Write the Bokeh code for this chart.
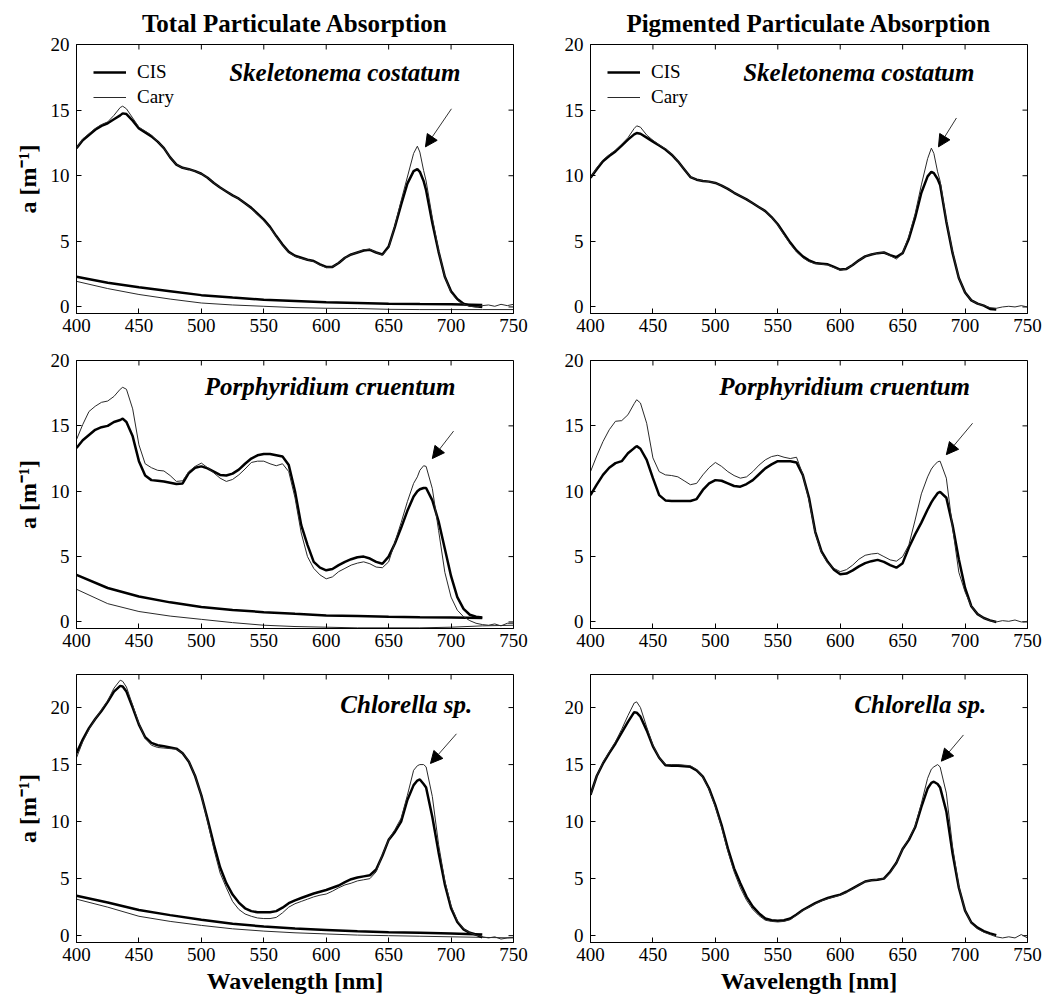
import math
from bokeh.plotting import figure
from bokeh.models import (Range1d, FixedTicker, Label, Arrow,
                          NormalHead, Legend, LegendItem)
from bokeh.layouts import gridplot
from bokeh.embed import file_html
from bokeh.resources import INLINE

FONT = "Liberation Serif"

# ---------------- data ----------------
WL = [400, 405, 410, 415, 420, 425, 430, 435, 437, 440,
      445, 450, 455, 460, 465, 470, 475, 480, 485, 490,
      495, 500, 505, 510, 515, 520, 525, 530, 535, 540,
      545, 550, 555, 560, 565, 570, 575, 580, 585, 590,
      595, 600, 605, 610, 615, 620, 625, 630, 635, 640,
      645, 650, 655, 660, 665, 670, 673, 675, 678, 680,
      685, 690, 695, 700, 705, 710, 715, 720, 725,
      730, 735, 740, 745, 750]
DET_WL = [400, 425, 450, 475, 500, 525, 550, 575, 600, 625, 650, 675, 700, 725, 750]

X_TICKS = [400, 450, 500, 550, 600, 650, 700, 750]
Y_TICKS = [0, 5, 10, 15, 20]

# Skeletonema costatum - total
sk_tot_cis = [12.1, 12.7, 13.1, 13.5, 13.8, 14.0, 14.3, 14.6, 14.75, 14.7,
              14.2, 13.6, 13.3, 13.0, 12.6, 12.1, 11.4, 10.85, 10.6, 10.5,
              10.35, 10.15, 9.85, 9.45, 9.1, 8.8, 8.5, 8.25, 7.9, 7.55,
              7.1, 6.65, 6.1, 5.4, 4.75, 4.2, 3.9, 3.75, 3.6, 3.5,
              3.25, 3.05, 3.05, 3.35, 3.75, 4.0, 4.15, 4.3, 4.35, 4.15,
              4.0, 4.6, 6.1, 7.8, 9.4, 10.35, 10.5, 10.3, 9.6, 8.9,
              6.4, 4.2, 2.3, 1.2, 0.6, 0.25, 0.1, 0.05, 0.0]
sk_tot_cary = [12.1, 12.8, 13.2, 13.6, 13.9, 14.1, 14.6, 15.2, 15.3, 15.1,
               14.4, 13.7, 13.4, 13.1, 12.6, 12.1, 11.4, 10.85, 10.6, 10.5,
               10.35, 10.15, 9.85, 9.45, 9.1, 8.8, 8.5, 8.25, 7.9, 7.5,
               7.05, 6.6, 6.05, 5.35, 4.7, 4.15, 3.85, 3.7, 3.6, 3.45,
               3.2, 3.0, 3.05, 3.35, 3.75, 4.0, 4.15, 4.35, 4.4, 4.15,
               3.95, 4.5, 6.2, 8.1, 9.9, 11.7, 12.25, 11.8, 10.4, 9.6,
               6.8, 4.3, 2.3, 1.1, 0.5, 0.2, 0.05, 0.0, 0.1,
               0.15, 0.05, 0.2, 0.1, 0.2]
sk_det_cis = [2.3, 1.85, 1.5, 1.2, 0.9, 0.72, 0.55, 0.45, 0.35, 0.3, 0.25, 0.22, 0.2, 0.15]
sk_det_cary = [1.95, 1.4, 0.95, 0.6, 0.3, 0.15, 0.05, -0.05, -0.1, -0.12, -0.18, -0.2, -0.2, -0.2, -0.2]

# Skeletonema costatum - pigmented
sk_pig_cis = [9.85, 10.5, 11.1, 11.5, 11.85, 12.3, 12.75, 13.15, 13.25, 13.2,
              12.9, 12.6, 12.3, 12.0, 11.6, 11.1, 10.5, 9.9, 9.7, 9.6,
              9.55, 9.45, 9.25, 9.0, 8.7, 8.45, 8.2, 7.9, 7.6, 7.3,
              6.85, 6.3, 5.6, 4.9, 4.3, 3.85, 3.55, 3.35, 3.3, 3.25,
              3.05, 2.85, 2.9, 3.2, 3.55, 3.85, 4.0, 4.1, 4.15, 3.95,
              3.8, 4.1, 5.2, 6.8, 8.7, 9.95, 10.3, 10.2, 9.75, 9.3,
              6.5, 4.1, 2.2, 1.1, 0.5, 0.25, 0.1, -0.15, -0.2]
sk_pig_cary = [9.85, 10.6, 11.2, 11.6, 11.95, 12.4, 12.9, 13.6, 13.8, 13.7,
               13.1, 12.7, 12.35, 12.05, 11.65, 11.1, 10.5, 9.9, 9.7, 9.6,
               9.55, 9.45, 9.25, 9.0, 8.7, 8.45, 8.2, 7.9, 7.6, 7.3,
               6.85, 6.25, 5.5, 4.8, 4.2, 3.75, 3.45, 3.3, 3.25, 3.2,
               3.0, 2.8, 2.9, 3.2, 3.55, 3.85, 4.0, 4.1, 4.15, 3.9,
               3.65, 4.1, 5.4, 7.1, 9.3, 11.3, 12.1, 11.7, 10.3, 9.6,
               6.6, 4.2, 2.2, 1.1, 0.5, 0.25, 0.1, -0.05, -0.1,
               0.0, 0.05, 0.0, 0.1, 0.0]

# Porphyridium cruentum - total
po_tot_cis = [13.3, 13.9, 14.3, 14.7, 14.9, 15.0, 15.3, 15.45, 15.55, 15.3,
              14.2, 12.3, 11.2, 10.85, 10.8, 10.75, 10.65, 10.55, 10.6, 11.4,
              11.8, 11.9, 11.75, 11.5, 11.25, 11.2, 11.35, 11.65, 12.1, 12.5,
              12.75, 12.85, 12.85, 12.75, 12.65, 12.0, 10.0, 7.4, 5.9, 4.6,
              4.15, 3.95, 4.05, 4.35, 4.6, 4.8, 4.95, 5.0, 4.85, 4.6,
              4.45, 5.0, 6.0, 7.2, 8.5, 9.6, 10.0, 10.15, 10.25, 10.25,
              9.3, 7.7, 5.6, 3.5, 1.9, 1.0, 0.55, 0.4, 0.35]
po_tot_cary = [13.95, 15.1, 16.1, 16.5, 16.8, 16.9, 17.25, 17.8, 17.95, 17.8,
               16.3, 13.55, 12.1, 11.8, 11.6, 11.55, 11.2, 10.75, 10.8, 11.5,
               11.9, 12.15, 11.8, 11.4, 11.0, 10.75, 10.9, 11.25, 11.7, 12.2,
               12.3, 12.3, 12.1, 11.95, 12.1, 11.5, 9.5, 6.8, 5.0, 4.1,
               3.6, 3.3, 3.45, 3.85, 4.1, 4.35, 4.5, 4.6, 4.45, 4.2,
               4.15, 4.6, 6.1, 7.6, 9.2, 10.6, 11.1, 11.6, 11.95, 11.9,
               10.2, 7.0, 3.8, 1.9, 0.9, 0.4, 0.1, -0.1, -0.2,
               -0.25, -0.15, -0.3, -0.1, -0.1]
po_det_cis = [3.6, 2.6, 1.95, 1.5, 1.15, 0.92, 0.75, 0.62, 0.5, 0.45, 0.4, 0.37, 0.35, 0.3]
po_det_cary = [2.5, 1.4, 0.8, 0.45, 0.2, -0.05, -0.25, -0.35, -0.4, -0.45, -0.45, -0.45, -0.4, -0.3, -0.25]

# Porphyridium cruentum - pigmented
po_pig_cis = [9.7, 10.5, 11.25, 11.8, 12.15, 12.3, 12.9, 13.3, 13.45, 13.25,
              12.4, 11.0, 9.7, 9.3, 9.25, 9.25, 9.25, 9.25, 9.4, 10.1,
              10.6, 10.85, 10.8, 10.6, 10.4, 10.35, 10.55, 10.85, 11.3, 11.75,
              12.05, 12.3, 12.3, 12.3, 12.2, 11.25, 9.5, 6.9, 5.4, 4.6,
              4.0, 3.65, 3.7, 3.95, 4.25, 4.5, 4.65, 4.75, 4.6, 4.35,
              4.15, 4.5, 5.7, 6.7, 7.6, 8.6, 9.15, 9.45, 9.85, 9.95,
              9.5, 7.4, 4.8, 2.6, 1.2, 0.6, 0.3, 0.12, 0.0]
po_pig_cary = [11.5, 12.7, 13.8, 14.7, 15.35, 15.4, 15.85, 16.7, 17.0, 16.75,
               15.2, 12.55, 11.5, 11.25, 11.2, 11.1, 10.8, 10.5, 10.6, 11.25,
               11.8, 12.2, 11.9, 11.5, 11.2, 11.0, 11.1, 11.5, 12.0, 12.4,
               12.65, 12.75, 12.6, 12.5, 12.6, 11.3, 9.3, 6.8, 5.3, 4.5,
               4.1, 3.85, 4.0, 4.35, 4.8, 5.1, 5.2, 5.25, 5.0, 4.75,
               4.65, 5.0, 5.9, 7.8, 9.8, 11.1, 11.7, 11.95, 12.25, 12.3,
               11.0, 7.2, 3.8, 2.3, 1.2, 0.6, 0.3, 0.1, 0.0,
               0.1, 0.05, 0.15, 0.0, 0.05]

# Chlorella sp. - total
ch_tot_cis = [16.0, 17.2, 18.2, 19.0, 19.7, 20.5, 21.4, 21.9, 21.85, 21.4,
              20.0, 18.5, 17.4, 16.9, 16.7, 16.6, 16.5, 16.4, 16.0, 15.25,
              14.0, 12.3, 10.2, 8.0, 6.0, 4.6, 3.6, 2.9, 2.4, 2.15,
              2.05, 2.05, 2.05, 2.15, 2.45, 2.85, 3.1, 3.3, 3.5, 3.7,
              3.85, 4.0, 4.2, 4.4, 4.7, 4.95, 5.1, 5.2, 5.3, 5.8,
              7.0, 8.4, 9.1, 10.0, 11.9, 13.2, 13.6, 13.7, 13.3, 13.0,
              10.4, 7.3, 4.5, 2.4, 1.2, 0.55, 0.25, 0.1, -0.15]
ch_tot_cary = [15.6, 17.0, 18.1, 19.0, 19.8, 20.6, 21.7, 22.4, 22.3, 21.8,
               20.2, 18.6, 17.3, 16.7, 16.5, 16.45, 16.4, 16.35, 16.0, 15.3,
               14.0, 12.3, 10.0, 7.6, 5.5, 4.2, 3.0, 2.3, 1.9, 1.7,
               1.55, 1.5, 1.5, 1.6, 2.0, 2.5, 2.8, 3.0, 3.2, 3.4,
               3.55, 3.65, 3.9, 4.2, 4.45, 4.6, 4.8, 4.9, 5.0, 5.6,
               7.1, 8.4, 9.3, 10.3, 12.3, 14.5, 14.9, 15.0, 15.0, 14.8,
               12.2, 8.0, 4.8, 2.6, 1.3, 0.6, 0.25, 0.05, -0.1,
               -0.2, -0.1, -0.3, -0.2, -0.15]
ch_det_cis = [3.5, 2.9, 2.25, 1.8, 1.4, 1.05, 0.8, 0.62, 0.5, 0.38, 0.3, 0.25, 0.2, 0.1]
ch_det_cary = [3.2, 2.5, 1.7, 1.25, 0.9, 0.6, 0.4, 0.25, 0.15, 0.05, 0.0, -0.05, -0.1, -0.15, -0.2]

# Chlorella sp. - pigmented
ch_pig_cis = [12.35, 14.0, 15.1, 16.0, 16.85, 17.8, 18.75, 19.6, 19.55, 19.2,
              18.0, 16.6, 15.6, 14.95, 14.9, 14.9, 14.85, 14.8, 14.5, 13.95,
              12.9, 11.45, 9.7, 7.65, 5.9, 4.6, 3.4, 2.55, 1.95, 1.5,
              1.35, 1.3, 1.35, 1.5, 1.85, 2.25, 2.55, 2.85, 3.1, 3.3,
              3.45, 3.6, 3.85, 4.15, 4.45, 4.75, 4.85, 4.9, 5.0, 5.6,
              6.4, 7.6, 8.4, 9.5, 11.3, 12.9, 13.4, 13.5, 13.3, 13.0,
              10.9, 7.2, 4.2, 2.2, 1.15, 0.7, 0.4, 0.2, 0.05]
ch_pig_cary = [12.3, 14.0, 15.2, 16.1, 17.0, 18.1, 19.3, 20.4, 20.5, 20.0,
               18.3, 16.7, 15.6, 15.0, 15.0, 15.0, 14.95, 14.9, 14.55, 13.9,
               12.8, 11.3, 9.5, 7.4, 5.6, 4.2, 3.1, 2.3, 1.75, 1.35,
               1.25, 1.2, 1.25, 1.4, 1.8, 2.2, 2.5, 2.8, 3.05, 3.25,
               3.4, 3.55, 3.8, 4.1, 4.45, 4.75, 4.85, 4.95, 5.0, 5.5,
               6.4, 7.6, 8.5, 9.6, 11.6, 13.8, 14.6, 14.8, 15.0, 14.8,
               12.5, 7.8, 4.3, 2.2, 1.1, 0.6, 0.3, 0.1, -0.1,
               -0.2, -0.1, -0.2, 0.1, -0.2]

# ---------------- drawing ----------------
def style_axis(ax):
    ax.major_tick_in = 5
    ax.major_tick_out = 0
    ax.minor_tick_line_color = None
    ax.axis_line_color = "black"
    ax.major_tick_line_color = "black"
    ax.major_label_text_font = FONT
    ax.major_label_text_color = "black"
    ax.major_label_text_font_size = "19px"
    ax.major_label_standoff = 5


def panel(col, row, cis, cary, species, sp_xy, arrow, det=None, title=None,
          legend=False):
    ymax = 22.9 if row == 2 else 20.0
    ymin = -0.6 if row == 2 else -0.5
    tops = [43, 17, 16]
    bottoms = [30, 30, 56]
    if col == 0:
        bl, br = 76, 20
    else:
        bl, br = 57, 16
    fh = 269 if row == 0 else 268
    p = figure(x_range=Range1d(400, 750), y_range=Range1d(ymin, ymax),
               frame_width=437, frame_height=fh,
               min_border_left=bl, min_border_right=br,
               min_border_top=tops[row], min_border_bottom=bottoms[row],
               output_backend="svg", toolbar_location=None, tools="",
               title=title, background_fill_color="white",
               border_fill_color="white")
    p.grid.visible = False
    p.outline_line_color = "black"
    p.outline_line_width = 1
    if title is not None:
        p.title.align = "center"
        p.title.text_font = FONT
        p.title.text_font_size = "25px"
        p.title.text_font_style = "bold"
        p.title.text_color = "black"
        p.title.standoff = 15

    xa = p.xaxis[0]
    xa.ticker = FixedTicker(ticks=X_TICKS)
    style_axis(xa)
    ya = p.yaxis[0]
    ya.ticker = FixedTicker(ticks=Y_TICKS)
    style_axis(ya)
    ya.major_label_standoff = 7
    if col == 0:
        ya.axis_label = "a [m\u207b\u00b9]"
        ya.axis_label_text_font = FONT
        ya.axis_label_text_font_size = "24px"
        ya.axis_label_text_font_style = "bold"
        ya.axis_label_text_color = "black"
        ya.axis_label_standoff = 7
    if row == 2:
        xa.axis_label = "Wavelength [nm]"
        xa.axis_label_text_font = FONT
        xa.axis_label_text_font_size = "24px"
        xa.axis_label_text_font_style = "bold"
        xa.axis_label_text_color = "black"
        xa.axis_label_standoff = 4

    # inward tick marks on the top and right frame edges
    p.ray(x=X_TICKS, y=[ymax] * len(X_TICKS), length=5, angle=-math.pi / 2,
          length_units="screen", line_color="black", line_width=1)
    p.ray(x=[750] * len(Y_TICKS), y=Y_TICKS, length=5, angle=math.pi,
          length_units="screen", line_color="black", line_width=1)

    if det is not None:
        dc, dy = det
        p.line(DET_WL[:len(dc)], dc, line_width=2.5, line_color="black")
        p.line(DET_WL[:len(dy)], dy, line_width=1, line_color="#2a2a2a")
    r_cis = p.line(WL[:len(cis)], cis, line_width=2.5, line_color="black")
    r_cary = p.line(WL[:len(cary)], cary, line_width=1, line_color="#2a2a2a")

    p.add_layout(Label(x=sp_xy[0], y=sp_xy[1], text=species,
                       text_align="right", text_baseline="middle",
                       text_font=FONT, text_font_size="25px",
                       text_font_style="bold italic", text_color="black"))
    (xs, ys), (xe, ye) = arrow
    p.add_layout(Arrow(end=NormalHead(size=12, fill_color="black",
                                      line_color="black", line_width=1),
                       x_start=xs, y_start=ys, x_end=xe, y_end=ye,
                       line_color="#333333", line_width=1))
    if legend:
        lg = Legend(items=[LegendItem(label="CIS", renderers=[r_cis]),
                           LegendItem(label="Cary", renderers=[r_cary])],
                    location="top_left", margin=0, padding=17, spacing=3,
                    glyph_width=33, glyph_height=20, label_height=20,
                    label_standoff=11, label_text_font=FONT,
                    label_text_font_size="19px", label_text_color="black",
                    background_fill_alpha=0, border_line_alpha=0)
        p.add_layout(lg)
    return p


p1 = panel(0, 0, sk_tot_cis, sk_tot_cary, "Skeletonema costatum", (707.5, 17.9),
           ((700.3, 15.1), (679.5, 12.2)), det=(sk_det_cis, sk_det_cary),
           title="Total Particulate Absorption", legend=True)
p2 = panel(1, 0, sk_pig_cis, sk_pig_cary, "Skeletonema costatum", (707.5, 17.9),
           ((693.1, 14.4), (678.7, 12.2)),
           title="Pigmented Particulate Absorption", legend=True)
p3 = panel(0, 1, po_tot_cis, po_tot_cary, "Porphyridium cruentum", (703.5, 18.0),
           ((702.0, 14.6), (685.0, 12.5)), det=(po_det_cis, po_det_cary))
p4 = panel(1, 1, po_pig_cis, po_pig_cary, "Porphyridium cruentum", (704.0, 18.0),
           ((706.0, 15.2), (685.0, 12.8)))
p5 = panel(0, 2, ch_tot_cis, ch_tot_cary, "Chlorella sp.", (717.0, 20.3),
           ((704.3, 17.7), (683.5, 15.1)), det=(ch_det_cis, ch_det_cary))
p6 = panel(1, 2, ch_pig_cis, ch_pig_cary, "Chlorella sp.", (717.0, 20.3),
           ((698.7, 17.6), (681.0, 15.3)))

grid = gridplot([[p1, p2], [p3, p4], [p5, p6]], toolbar_location=None)

open("out.html", "w").write(file_html(grid, INLINE))
